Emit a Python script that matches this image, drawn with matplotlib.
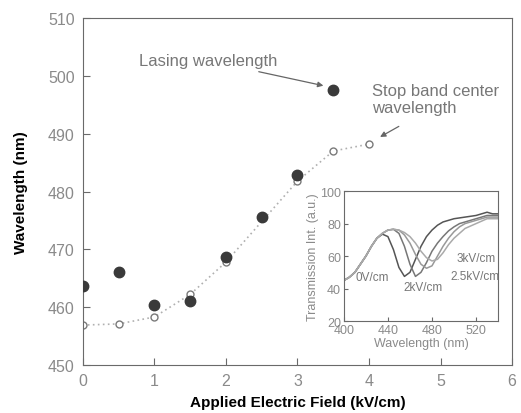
"""Lasing and stop band wavelength vs applied field, with transmission inset."""

import matplotlib
matplotlib.use("Agg")
import matplotlib.pyplot as plt

plt.rcParams["font.family"] = ["Liberation Sans", "DejaVu Sans"]

# main panel
field = [0, 0.5, 1, 1.5, 2, 2.5, 3, 3.5]
lasing = [463.6, 466.1, 460.4, 461.0, 468.7, 475.6, 482.8, 497.5]
field_sb = [0, 0.5, 1, 1.5, 2, 3, 3.5, 4]
stop_band = [456.9, 457.1, 458.3, 462.2, 467.8, 481.8, 487.0, 488.2]

# inset: transmission spectra
wl = [400, 405, 410, 415, 420, 425, 430, 435, 440, 445, 450, 455, 460, 465,
      470, 475, 480, 485, 490, 495, 500, 505, 510, 515, 520, 525, 530, 535, 540]
t_0 = [45, 47, 50, 55, 60, 66, 71, 73.5, 72, 64, 53, 47.5, 50, 58,
       66, 72, 76, 79, 81, 82, 83, 83.5, 84, 84.5, 85, 86, 87, 86, 86]
t_2 = [45, 47, 50, 55, 60, 66, 71, 74, 76, 76.5, 74, 66, 55, 47.5,
       50, 56, 63, 68, 72, 75.5, 78, 80, 81, 82, 83, 84, 85, 85, 85]
t_25 = [45, 47, 50, 55, 60, 66, 71, 74, 76, 76.5, 76, 73, 68, 61,
        55, 52.5, 54, 60, 66, 71, 75, 78, 80, 81, 82, 83, 84, 84, 84]
t_3 = [45, 47, 50, 55, 60, 66, 71, 74, 76, 76.5, 76, 74.5, 72, 68,
       63, 59, 57, 58, 62, 67, 71, 74, 77, 78.5, 80, 81.5, 83, 83, 83]
spectra = [t_0, t_2, t_25, t_3]
spectra_colors = ["#555555", "#777777", "#999999", "#aaaaaa"]

AX_COLOR = "#6a6a6a"
TICK_COLOR = "#8a8a8a"

fig = plt.figure(figsize=(5.21, 4.14), dpi=100)
ax = fig.add_axes([0.159, 0.116, 0.824, 0.838])

ax.plot(field_sb, stop_band, linestyle=(0, (1, 2)), color="#b0b0b0", lw=1.2,
        marker="o", markersize=5, markerfacecolor="white",
        markeredgecolor="#7a7a7a", markeredgewidth=1.0, zorder=2)
ax.plot(field, lasing, linestyle="none", marker="o", markersize=7.5,
        color="#3a3a3a", zorder=3)

ax.set_xlim(0, 6)
ax.set_ylim(450, 510)
ax.set_xticks(range(0, 7))
ax.set_yticks(range(450, 511, 10))
ax.tick_params(direction="in", length=5, colors=AX_COLOR, labelcolor=TICK_COLOR,
               labelsize=11.5, pad=6)
for s in ax.spines.values():
    s.set_color(AX_COLOR)
ax.set_xlabel("Applied Electric Field (kV/cm)", fontsize=11, fontweight="bold",
              labelpad=5)
ax.set_ylabel("Wavelength (nm)", fontsize=11, fontweight="bold", labelpad=14)

ax.annotate("Lasing wavelength", xy=(3.4, 498.2), xytext=(0.79, 502.6),
            fontsize=12, color="#777777", va="center",
            arrowprops=dict(arrowstyle="-|>", color="#666666", lw=0.9,
                            mutation_scale=8))
ax.annotate("Stop band center\nwavelength", xy=(4.12, 489.2),
            xytext=(4.04, 496.0), fontsize=12, color="#777777", va="center",
            linespacing=1.1)
ax.annotate("", xy=(4.12, 489.2), xytext=(4.45, 491.5),
            arrowprops=dict(arrowstyle="-|>", color="#666666", lw=0.9,
                            mutation_scale=8))

# inset
ins = fig.add_axes([0.660, 0.222, 0.296, 0.314])
for t, c in zip(spectra, spectra_colors):
    ins.plot(wl, t, color=c, lw=1.1)
ins.set_xlim(400, 540)
ins.set_ylim(20, 100)
ins.set_xticks([400, 440, 480, 520])
ins.set_yticks([20, 40, 60, 80, 100])
ins.tick_params(direction="in", length=3, colors=AX_COLOR, labelcolor=TICK_COLOR,
                labelsize=9, pad=2)
for s in ins.spines.values():
    s.set_color(AX_COLOR)
ins.set_xlabel("Wavelength (nm)", fontsize=9, color=TICK_COLOR, labelpad=1)
ins.set_ylabel("Transmission Int. (a.u.)", fontsize=9, color=TICK_COLOR,
               labelpad=1)
lab_kw = dict(fontsize=8.5, color="#777777", ha="center", va="center")
ins.text(426, 47, "0V/cm", **lab_kw)
ins.text(472, 41, "2kV/cm", **lab_kw)
ins.text(519, 48, "2.5kV/cm", **lab_kw)
ins.text(520, 59, "3kV/cm", **lab_kw)

fig.savefig("out.png", dpi=100)
